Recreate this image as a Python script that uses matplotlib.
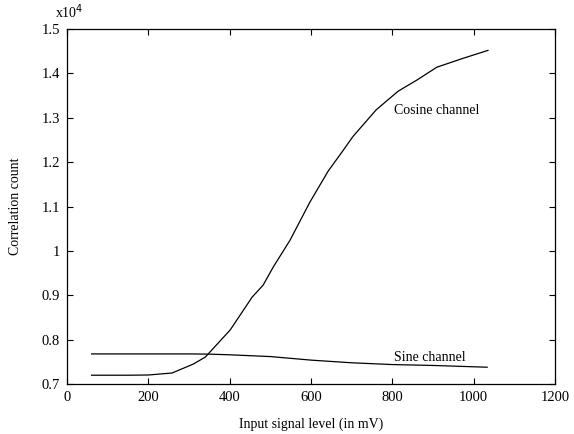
import matplotlib
matplotlib.use("Agg")
import matplotlib.pyplot as plt
from matplotlib.ticker import FuncFormatter

plt.rcParams["font.family"] = ["Liberation Serif", "DejaVu Serif"]

# input signal level (mV) and correlation counts
cos_x = [60, 150, 200, 258, 310, 340, 401, 455, 482, 507, 548, 597, 642, 676, 703, 760, 814, 860, 909, 970, 1035]
cos_y = [7200, 7200, 7205, 7250, 7450, 7610, 8220, 8960, 9230, 9640, 10240, 11100, 11800, 12230, 12580, 13180, 13600, 13850, 14140, 14330, 14520]
sin_x = [60, 200, 300, 350, 400, 500, 600, 700, 800, 900, 1033]
sin_y = [7680, 7680, 7680, 7675, 7660, 7620, 7540, 7480, 7440, 7420, 7380]

fig = plt.figure(figsize=(5.74, 4.34), dpi=100)
ax = fig.add_axes([0.117, 0.115, 0.850, 0.818])

ax.plot(cos_x, cos_y, color="black", linewidth=0.9)
ax.plot(sin_x, sin_y, color="black", linewidth=0.9)

ax.set_xlim(0, 1200)
ax.set_ylim(7000, 15000)
ax.set_xticks(range(0, 1201, 200))
ax.set_yticks([7000 + 1000 * i for i in range(9)])
ax.yaxis.set_major_formatter(FuncFormatter(lambda v, p: f"{v / 1e4:g}"))
ax.tick_params(direction="in", top=True, right=True, length=4, width=0.8, labelsize=10.5, pad=5)
for s in ax.spines.values():
    s.set_linewidth(0.9)

ax.text(910, 13170, "Cosine channel", ha="center", va="center", fontsize=10)
ax.text(893, 7600, "Sine channel", ha="center", va="center", fontsize=10)

ax.set_xlabel("Input signal level (in mV)", fontsize=10, labelpad=10)
ax.set_ylabel("Correlation count", fontsize=10, labelpad=14)
fig.text(0.096, 0.972, "x10$^4$", fontsize=10, ha="left", va="center")

fig.savefig("out.png", dpi=100)
